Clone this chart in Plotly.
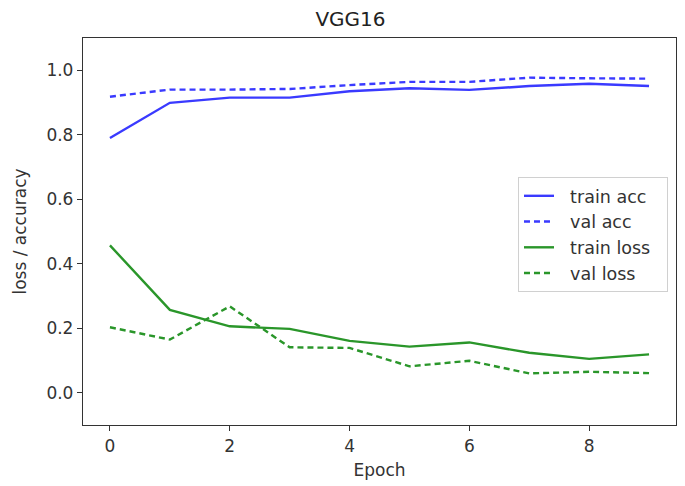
import plotly.graph_objects as go

epochs = list(range(10))
train_acc = [0.790, 0.899, 0.915, 0.915, 0.935, 0.944, 0.939, 0.951, 0.958, 0.951]
val_acc = [0.918, 0.940, 0.940, 0.942, 0.954, 0.964, 0.964, 0.977, 0.975, 0.974]
train_loss = [0.457, 0.257, 0.206, 0.198, 0.161, 0.143, 0.156, 0.124, 0.105, 0.119]
val_loss = [0.203, 0.165, 0.268, 0.141, 0.139, 0.082, 0.099, 0.060, 0.065, 0.061]
series_names = ["train acc", "val acc", "train loss", "val loss"]

BLUE = "#3a3aff"
GREEN = "#2a962a"
FONT = "DejaVu Sans"
NB = "\u00a0"

def label(s):
    return NB * 2 + s + NB * 2

fig = go.Figure()
fig.add_trace(go.Scatter(x=epochs, y=train_acc, mode="lines", name=label(series_names[0]),
                         line=dict(color=BLUE, width=2.4)))
fig.add_trace(go.Scatter(x=epochs, y=val_acc, mode="lines", name=label(series_names[1]),
                         line=dict(color=BLUE, width=2.4, dash="6px,4px")))
fig.add_trace(go.Scatter(x=epochs, y=train_loss, mode="lines", name=label(series_names[2]),
                         line=dict(color=GREEN, width=2.4)))
fig.add_trace(go.Scatter(x=epochs, y=val_loss, mode="lines", name=label(series_names[3]),
                         line=dict(color=GREEN, width=2.4, dash="6px,4px")))

axis_common = dict(showline=True, mirror=True, linecolor="#333333", linewidth=1.3,
                   ticks="outside", ticklen=5, tickwidth=1.2, tickcolor="#333333",
                   showgrid=False, zeroline=False, automargin=False,
                   tickfont=dict(family=FONT, size=17, color="#333333"))

fig.update_layout(
    width=685, height=486,
    paper_bgcolor="white", plot_bgcolor="white",
    margin=dict(l=75, r=17, t=30, b=69),
    title=dict(text="VGG16", x=0.5, xanchor="center", y=0.978, yanchor="middle",
               font=dict(family=FONT, size=20, color="#222222")),
    font=dict(family=FONT, size=17, color="#333333"),
    xaxis=dict(range=[-0.45, 9.45], tickvals=[0, 2, 4, 6, 8],
               title=dict(text="Epoch", standoff=9, font=dict(family=FONT, size=17, color="#333333")),
               **axis_common),
    yaxis=dict(range=[-0.1, 1.1], tickvals=[0.0, 0.2, 0.4, 0.6, 0.8, 1.0],
               tickformat=".1f",
               title=dict(text="loss / accuracy", standoff=15, font=dict(family=FONT, size=17, color="#333333")),
               **axis_common),
    legend=dict(x=0.9865, y=0.641, xanchor="right", yanchor="top",
                bgcolor="rgba(255,255,255,0.9)", bordercolor="#d0d0d0", borderwidth=1,
                font=dict(family=FONT, size=17.5, color="#333333"),
                tracegroupgap=0, itemwidth=30),
    showlegend=True,
)

fig.write_html("out.html")
